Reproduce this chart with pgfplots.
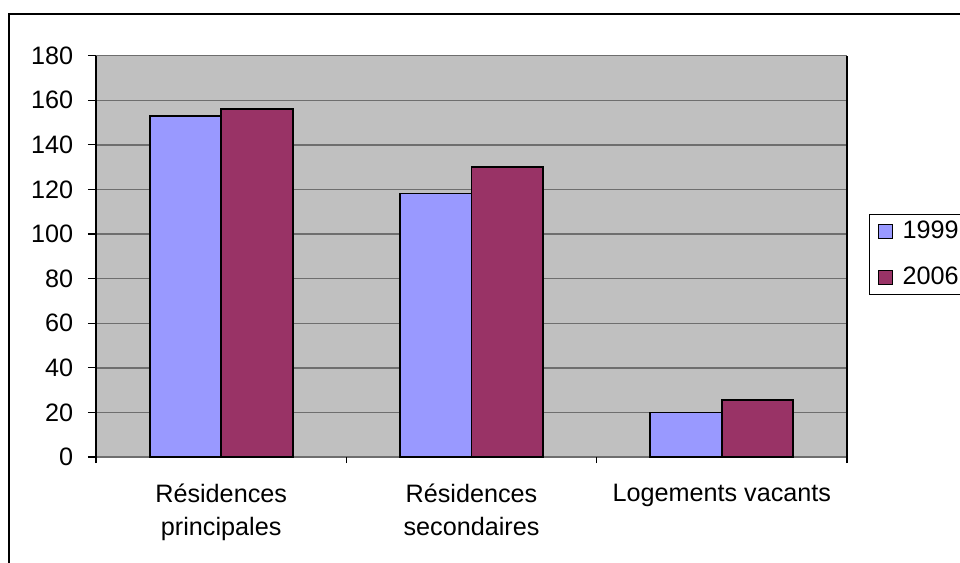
\documentclass[border=0pt]{standalone}
\usepackage{fontspec}
\setmainfont{Liberation Sans}
\usepackage{pgfplots}
\pgfplotsset{compat=1.18}
\definecolor{plotbg}{HTML}{C0C0C0}
\definecolor{gridc}{HTML}{6E6E6E}
\definecolor{blue99}{HTML}{9999FF}
\definecolor{plum06}{HTML}{993366}

\begin{document}
\fontsize{12.6}{16.5}\selectfont
\begin{tikzpicture}
\path[use as bounding box] (-48pt,-53pt) rectangle (432pt,228.5pt);
\draw[line width=1.1pt] (445pt,221.5pt) -- (-43.5pt,221.5pt) -- (-43.5pt,-70pt);
\begin{axis}[
    at={(0pt,0pt)}, anchor=south west,
    scale only axis,
    width=375.5pt, height=200.7pt,
    xmin=-0.5, xmax=2.5, ymin=0, ymax=180,
    ytick={0,20,...,180},
    /pgf/number format/assume math mode=true,
    ymajorgrids,
    grid style={draw=gridc, line width=0.7pt},
    axis background/.style={fill=plotbg},
    separate axis lines,
    x axis line style={draw=gridc, line width=0.7pt},
    y axis line style={draw=black, line width=0.7pt},
    tick align=outside,
    tick pos=left,
    ytick style={draw=black, line width=0.6pt},
    major tick length=4pt,
    xtick={0,1,2},
    xtick style={draw=none},
    xticklabels={R\'esidences\\principales, R\'esidences\\secondaires, Logements vacants},
    tick label style={font=\fontsize{12.6}{16.5}\selectfont},
    xticklabel style={align=center, yshift=-5pt},
    extra x ticks={-0.5,0.5,1.5,2.5},
    extra x tick labels={},
    extra x tick style={xtick style={draw=black, line width=0.6pt}, major tick length=3pt, grid=none},
    yticklabel style={xshift=-3pt},
    bar width=0.2857,
    legend style={at={(1.0293,0.6054)}, anchor=north west, draw=black, line width=0.6pt,
        fill=white, inner xsep=4pt, inner ysep=1pt, row sep=8.5pt,
        font=\fontsize{12.6}{15}\selectfont,
        /tikz/every odd column/.append style={column sep=3pt}},
    legend cell align=left,
    legend image code/.code={\draw[#1, draw=black, line width=0.5pt] (0pt,-3.5pt) rectangle (7pt,3.5pt);},
]
\addplot[ybar, bar shift=-0.14285, fill=blue99, draw=black, line width=0.9pt]
    coordinates {(0,153) (1,118.2) (2,20)};
\addlegendentry{1999}
\addplot[ybar, bar shift=0.14285, fill=plum06, draw=black, line width=0.9pt]
    coordinates {(0,156) (1,130) (2,25.6)};
\addlegendentry{2006}
\end{axis}
\end{tikzpicture}
\end{document}
